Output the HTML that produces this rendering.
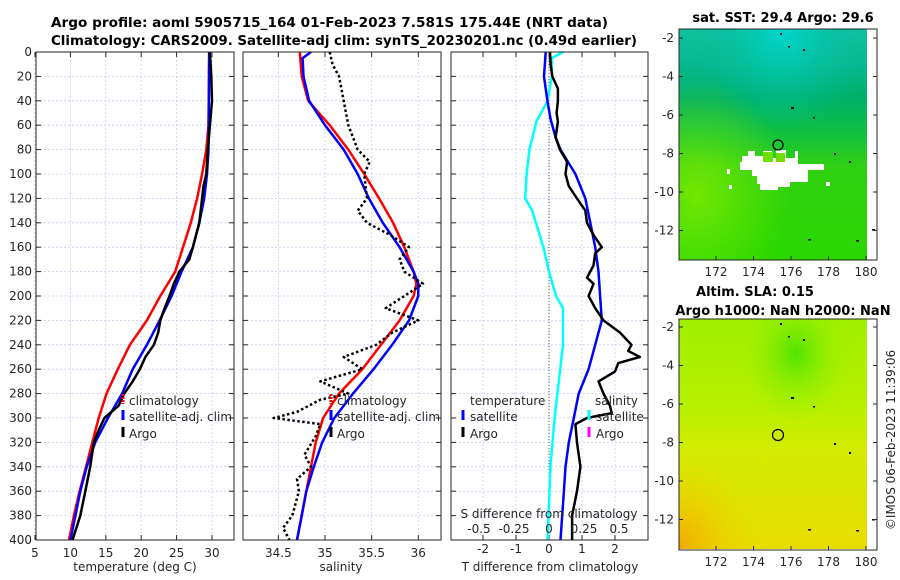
<!DOCTYPE html>
<html><head><meta charset="utf-8"><style>
html,body{margin:0;padding:0;background:#fff;}
svg{display:block;font-family:"DejaVu Sans","Liberation Sans",sans-serif;}
.tk{font-size:12px;fill:#262626;}
.tt{font-size:13px;font-weight:bold;fill:#000;}
</style></head><body>
<svg id="fig" width="900" height="580" viewBox="0 0 900 580" xmlns="http://www.w3.org/2000/svg">
<defs>
<linearGradient id="sstg" x1="0" y1="0" x2="0" y2="1">
<stop offset="0" stop-color="#10c0a0"/><stop offset="0.15" stop-color="#08b890"/><stop offset="0.3" stop-color="#00b068"/><stop offset="0.45" stop-color="#10c040"/><stop offset="0.6" stop-color="#30d010"/><stop offset="1" stop-color="#28d800"/>
</linearGradient>
<radialGradient id="sstc" cx="0.55" cy="0" r="0.45">
<stop offset="0" stop-color="#00d8d0"/><stop offset="0.5" stop-color="#00c8b0" stop-opacity="0.5"/><stop offset="1" stop-color="#00c0a0" stop-opacity="0"/>
</radialGradient>
<radialGradient id="sstl" cx="0.1" cy="0.72" r="0.5">
<stop offset="0" stop-color="#90f000" stop-opacity="0.7"/><stop offset="0.6" stop-color="#80ec00" stop-opacity="0.3"/><stop offset="1" stop-color="#80e800" stop-opacity="0"/>
</radialGradient>
<linearGradient id="slag" x1="0" y1="0" x2="0" y2="1">
<stop offset="0" stop-color="#a0f000"/><stop offset="0.35" stop-color="#b4f000"/><stop offset="0.55" stop-color="#d0ec00"/><stop offset="1" stop-color="#e8dc00"/>
</linearGradient>
<radialGradient id="slab" cx="0.62" cy="0.15" r="0.3">
<stop offset="0" stop-color="#50e400"/><stop offset="0.5" stop-color="#80ea00" stop-opacity="0.6"/><stop offset="1" stop-color="#a0f000" stop-opacity="0"/>
</radialGradient>
<radialGradient id="slac" cx="0" cy="1" r="0.4">
<stop offset="0" stop-color="#f0a800"/><stop offset="0.5" stop-color="#f0c400" stop-opacity="0.6"/><stop offset="1" stop-color="#f0d000" stop-opacity="0"/>
</radialGradient>
</defs>
<g id="titles">
<text class="tt" x="51" y="27" textLength="557" lengthAdjust="spacingAndGlyphs">Argo profile: aoml 5905715_164 01-Feb-2023 7.581S 175.44E (NRT data)</text>
<text class="tt" x="51" y="45" textLength="586" lengthAdjust="spacingAndGlyphs">Climatology: CARS2009. Satellite-adj clim: synTS_20230201.nc (0.49d earlier)</text>
</g>
<g id="p1"></g>
<g id="p2"></g>
<g id="p3"></g>

<g>
<text class="tt" x="783" y="22" text-anchor="middle">sat. SST: 29.4 Argo: 29.6</text>
<rect x="679" y="29" width="188" height="231" fill="url(#sstg)"/>
<rect x="679" y="29" width="188" height="231" fill="url(#sstc)"/>
<rect x="679" y="29" width="188" height="231" fill="url(#sstl)"/>
<path d="M742 156 L748 156 L748 151 L755 151 L755 156 L763 156 L763 151 L772 151 L772 158 L776 158 L776 150 L786 150 L786 158 L795 158 L795 151 L798 151 L798 164 L824 164 L824 170 L808 170 L808 182 L790 182 L790 187 L778 187 L778 190 L760 190 L760 184 L757 184 L757 176 L752 176 L752 170 L740 170 L740 162 L742 162 Z" fill="#fff"/>
<rect x="727" y="169" width="3" height="5" fill="#fff"/><rect x="826" y="182" width="4" height="4" fill="#fff"/><rect x="729" y="185" width="3" height="4" fill="#fff"/>
<rect x="763" y="152" width="10" height="10" fill="#70e000"/><rect x="776" y="153" width="9" height="9" fill="#70e000"/>
<circle cx="778" cy="145" r="5" fill="none" stroke="#000" stroke-width="1.2"/>
<g fill="#000"><rect x="780" y="33" width="2" height="2"/><rect x="788" y="46" width="2" height="1.5"/><rect x="803" y="49" width="2" height="2"/><rect x="791" y="107" width="3" height="2"/><rect x="813" y="117" width="2" height="1.5"/><rect x="834" y="153" width="2" height="2"/><rect x="849" y="161" width="2" height="2"/><rect x="856" y="240" width="3" height="1.5"/><rect x="808" y="239" width="3" height="1.5"/><rect x="872" y="229" width="3" height="1.5"/></g>
<rect x="679" y="29" width="198" height="231" fill="none" stroke="#262626" stroke-width="1"/>
</g>
<g id="m1ax"></g>

<g>
<text class="tt" x="755" y="296" text-anchor="middle">Altim. SLA: 0.15</text>
<text class="tt" x="783" y="315" text-anchor="middle">Argo h1000: NaN h2000: NaN</text>
<rect x="679" y="319" width="188" height="230" fill="url(#slag)"/>
<rect x="679" y="319" width="188" height="230" fill="url(#slab)"/>
<rect x="679" y="319" width="188" height="230" fill="url(#slac)"/>
<circle cx="778" cy="435" r="5.5" fill="none" stroke="#000" stroke-width="1.2"/>
<g fill="#000"><rect x="780" y="323" width="2" height="2"/><rect x="788" y="336" width="2" height="1.5"/><rect x="803" y="339" width="2" height="2"/><rect x="791" y="397" width="3" height="2"/><rect x="813" y="406" width="2" height="1.5"/><rect x="834" y="443" width="2" height="2"/><rect x="849" y="452" width="2" height="2"/><rect x="856" y="530" width="3" height="1.5"/><rect x="808" y="529" width="3" height="1.5"/><rect x="872" y="519" width="3" height="1.5"/></g>
<rect x="679" y="319" width="198" height="231" fill="none" stroke="#262626" stroke-width="1"/>
</g>
<g id="m2ax"></g>
<text class="tk" transform="translate(895,440) rotate(-90)" text-anchor="middle" font-size="12">©IMOS 06-Feb-2023 11:39:06</text>
</svg>
<script>
const depthTicks = [0,20,40,60,80,100,120,140,160,180,200,220,240,260,280,300,320,340,360,380,400];
const tempTicks = [5,10,15,20,25,30];
const salTicks = [34.5,35,35.5,36];
const salTickLabels = ["34.5","35","35.5","36"];
const tdiffTicks = [-2,-1,0,1,2];
const sdiffTicks = [-0.5,-0.25,0,0.25,0.5];
const sdiffTickLabels = ["-0.5","-0.25","0","0.25","0.5"];
const lonTicks = [172,174,176,178,180];
const latTicks = [-2,-4,-6,-8,-10,-12];

const climTDepth = [0,60,80,100,120,140,160,180,200,220,240,260,280,300,320,340,360,380,400];
const climT = [29.6,29.5,29.2,28.6,27.9,27.0,25.9,24.8,22.7,20.8,18.4,16.7,15.1,14.0,13.1,12.2,11.3,10.5,9.8];
const satTDepth = [0,80,100,120,140,160,180,200,220,240,260,280,300,320,340,360,380,400];
const satT = [29.6,29.5,29.3,28.9,28.2,27.3,25.7,24.3,22.6,20.8,18.8,17.3,15.3,13.5,12.3,11.4,10.7,10.0];
const argoTDepth = [0,20,40,60,80,100,110,120,140,160,170,180,190,200,210,220,230,240,250,260,270,280,290,300,310,320,340,360,380,400];
const argoT = [29.7,29.9,30.0,29.7,29.4,29.2,28.8,28.6,28.2,27.3,26.8,25.4,24.6,24.0,23.3,22.7,22.4,21.8,20.6,19.8,18.8,17.6,16.8,14.8,14.0,13.3,12.8,12.1,11.4,10.3];

const climSDepth = [0,20,40,60,80,100,120,140,160,180,190,200,220,240,260,280,300,320,340,360,380,400];
const climS = [34.73,34.75,34.82,35.05,35.25,35.42,35.58,35.73,35.85,35.95,35.98,35.95,35.8,35.6,35.4,35.15,34.98,34.9,34.85,34.8,34.75,34.7];
const satSDepth = [0,5,20,40,60,80,100,120,140,160,180,190,200,220,240,260,280,300,320,340,360,380,400];
const satS = [34.85,34.76,34.77,34.83,35.0,35.2,35.35,35.47,35.62,35.8,35.95,36.0,36.0,35.9,35.72,35.52,35.3,35.1,34.97,34.88,34.8,34.75,34.7];
const argoSDepth = [0,10,20,40,60,80,90,100,120,130,140,150,160,170,180,190,200,210,220,230,240,250,260,270,280,285,295,300,305,315,330,340,350,360,380,390,400];
const argoS = [35.05,35.08,35.15,35.2,35.25,35.35,35.48,35.42,35.45,35.35,35.45,35.7,35.9,35.8,35.85,36.05,35.85,35.65,36.0,35.72,35.55,35.2,35.4,34.95,35.25,34.95,34.7,34.45,34.95,34.9,34.78,34.85,34.7,34.72,34.65,34.55,34.62];

const satDTDepth = [0,20,40,55,70,80,100,120,140,160,180,200,220,240,260,280,300,320,340,360,380,400];
const satDT = [-0.1,-0.15,-0.05,0.05,0.2,0.35,0.8,1.1,1.25,1.4,1.5,1.55,1.6,1.4,1.2,0.9,0.75,0.6,0.5,0.45,0.4,0.35];
const argoDTDepth = [0,10,20,30,40,50,57,70,80,90,100,110,120,130,140,150,160,165,175,185,190,200,210,220,230,240,245,250,255,262,270,280,290,296,300,305,320,340,360,380,400];
const argoDT = [0.03,0.05,0.1,0.27,0.27,0.23,0.27,0.2,0.33,0.55,0.5,0.6,0.85,1.1,1.15,1.35,1.6,1.4,1.35,1.15,1.35,1.2,1.4,1.65,2.15,2.5,2.4,2.75,2.1,2.0,1.5,1.65,1.85,1.9,1.15,0.8,0.85,0.95,0.85,0.7,0.7];
const satDSDepth = [0,5,20,40,57,80,100,120,130,160,180,200,210,240,280,300,340,400];
const satDS = [0.1,0.02,0.02,-0.01,-0.09,-0.14,-0.16,-0.17,-0.12,-0.04,0.0,0.05,0.1,0.1,0.06,0.04,0.01,-0.01];

const NS = "http://www.w3.org/2000/svg";
const Y0 = 52, Y1 = 540, DMAX = 400;
function yD(d){ return Y0 + d/DMAX*(Y1-Y0); }
function mk(tag, attrs, parent){
  const e = document.createElementNS(NS, tag);
  for (const k in attrs) e.setAttribute(k, attrs[k]);
  parent.appendChild(e); return e;
}
function linePath(xs, ds, xf){
  let s = "";
  for (let i=0;i<xs.length;i++){ s += (i?"L":"M") + xf(xs[i]).toFixed(1) + " " + yD(ds[i]).toFixed(1); }
  return s;
}
function frame(g, x0, x1, xticksV, xf, showDepthLabels){
  for (const d of depthTicks){
    const gl = mk("line",{x1:x0,x2:x1,y1:yD(d),y2:yD(d),stroke:"#c6cdef","stroke-width":0.8,"stroke-dasharray":"2,2"},g);
    
    
    mk("line",{x1:x0,x2:x0+5,y1:yD(d),y2:yD(d),stroke:"#262626"},g);
    mk("line",{x1:x1-5,x2:x1,y1:yD(d),y2:yD(d),stroke:"#262626"},g);
    if (showDepthLabels){
      const t = mk("text",{x:x0-4,y:yD(d)+4,"text-anchor":"end",class:"tk"},g);
      t.textContent = d;
      
      
    }
  }
  for (const v of xticksV){
    const x = xf(v);
    mk("line",{x1:x,x2:x,y1:Y0,y2:Y1,stroke:"#c6cdef","stroke-width":0.8,"stroke-dasharray":"2,2"},g);
    mk("line",{x1:x,x2:x,y1:Y1,y2:Y1-5,stroke:"#262626"},g);
    mk("line",{x1:x,x2:x,y1:Y0,y2:Y0+5,stroke:"#262626"},g);
  }
}
function border(g,x0,x1){ mk("rect",{x:x0,y:Y0,width:x1-x0,height:Y1-Y0,fill:"none",stroke:"#262626","stroke-width":1},g); }
function txt(g, x, y, s, anchor, name, size){
  const t = mk("text",{x:x,y:y,"text-anchor":anchor||"start",class:"tk"},g);
  if (size) t.setAttribute("font-size", size);
  t.textContent = s;
  
  
  return t;
}
function series(g, xs, ds, xf, color, name, extra){
  const p = mk("path",Object.assign({d:linePath(xs,ds,xf),fill:"none",stroke:color,"stroke-width":2.5,"stroke-linejoin":"round"}, extra||{}),g);
  
  
}
function legendMark(g,x,y,color,name,dash){
  const l = mk("line",{x1:x,x2:x,y1:y-11,y2:y-1,stroke:color,"stroke-width":3},g);
  if (dash) l.setAttribute("stroke-dasharray","2,1");
  
  
}

const p1 = document.getElementById("p1");
const xT = v => 35 + (v-5)*7.08;
frame(p1, 36, 234, tempTicks, xT, true);
series(p1, climT, climTDepth, xT, "#ff0000", "climatology-temperature-line");
series(p1, satT, satTDepth, xT, "#0000ff", "satellite-temperature-line");
series(p1, argoT, argoTDepth, xT, "#000000", "argo-temperature-line");
border(p1,36,234);
for (const v of tempTicks) txt(p1, xT(v), 557, v, "middle", "temperature-tick-label");
txt(p1, 135, 571, "temperature (deg C)", "middle", "temperature-axis-title", 13);
legendMark(p1,123,405,"#ff0000","legend-climatology-marker",true); txt(p1,129,405,"climatology","start","legend-climatology",13);
legendMark(p1,123,421,"#0000ff","legend-satellite-marker"); txt(p1,129,421,"satellite-adj. clim","start","legend-satellite",13);
legendMark(p1,123,438,"#000000","legend-argo-marker"); txt(p1,129,438,"Argo","start","legend-argo",13);

const p2 = document.getElementById("p2");
const xS = v => 325 + (v-35)*93.3;
frame(p2, 243, 441, salTicks, xS, false);
series(p2, climS, climSDepth, xS, "#ff0000", "climatology-salinity-line");
series(p2, satS, satSDepth, xS, "#0000ff", "satellite-salinity-line");
series(p2, argoS, argoSDepth, xS, "#000000", "argo-salinity-line", {"stroke-dasharray":"2.5,2.5"});
border(p2,243,441);
salTicks.forEach((v,i)=>txt(p2, xS(v), 557, salTickLabels[i], "middle", "salinity-tick-label"));
txt(p2, 341, 571, "salinity", "middle", "salinity-axis-title", 13);
legendMark(p2,331,405,"#ff0000","legend-climatology-marker",true); txt(p2,337,405,"climatology","start","legend-climatology",13);
legendMark(p2,331,421,"#0000ff","legend-satellite-marker"); txt(p2,337,421,"satellite-adj. clim","start","legend-satellite",13);
legendMark(p2,331,438,"#000000","legend-argo-marker"); txt(p2,337,438,"Argo","start","legend-argo",13);

const p3 = document.getElementById("p3");
const xDT = v => 549 + v*33;
const xDS = v => 549 + v*140;
frame(p3, 451, 648, tdiffTicks, xDT, false);
mk("line",{x1:549,x2:549,y1:Y0,y2:Y1,stroke:"#555","stroke-width":1,"stroke-dasharray":"1,2"},p3);
series(p3, satDS, satDSDepth, xDS, "#00ffff", "satellite-salinity-diff-line");
series(p3, satDT, satDTDepth, xDT, "#0000ff", "satellite-temperature-diff-line");
series(p3, argoDT, argoDTDepth, xDT, "#000000", "argo-temperature-diff-line");
border(p3,451,648);
tdiffTicks.forEach(v=>txt(p3, xDT(v), 553, v, "middle", "tdiff-tick-label"));
txt(p3, 550, 571, "T difference from climatology", "middle", "tdiff-axis-title", 13);
txt(p3, 549, 518, "S difference from climatology", "middle", "sdiff-axis-title", 13);
sdiffTicks.forEach((v,i)=>txt(p3, xDS(v), 533, sdiffTickLabels[i], "middle", "sdiff-tick-label", 13));
txt(p3, 470, 405, "temperature", "start", "legend-temperature-header", 13);
legendMark(p3,463,421,"#0000ff","legend-t-satellite-marker"); txt(p3,470,421,"satellite","start","legend-t-satellite",13);
legendMark(p3,463,438,"#000000","legend-t-argo-marker"); txt(p3,470,438,"Argo","start","legend-t-argo",13);
txt(p3, 595, 405, "salinity", "start", "legend-salinity-header", 13);
legendMark(p3,589,421,"#00ffff","legend-s-satellite-marker"); txt(p3,596,421,"satellite","start","legend-s-satellite",13);
legendMark(p3,589,438,"#ff00ff","legend-s-argo-marker"); txt(p3,596,438,"Argo","start","legend-s-argo",13);

function mapAxes(id, yTop, yBot, latY0, name){
  const g = document.getElementById(id);
  const xL = v => 716 + (v-172)*18.75;
  const yL = v => latY0 + (-2 - v)*19.25;
  for (const v of lonTicks){
    mk("line",{x1:xL(v),x2:xL(v),y1:yBot,y2:yBot-4,stroke:"#262626"},g);
    txt(g, xL(v), yBot+16, v, "middle", name+"-lon-tick-label");
  }
  for (const v of latTicks){
    mk("line",{x1:679,x2:683,y1:yL(v),y2:yL(v),stroke:"#262626"},g);
    mk("line",{x1:873,x2:877,y1:yL(v),y2:yL(v),stroke:"#262626"},g);
    txt(g, 674, yL(v)+4, v, "end", name+"-lat-tick-label");
  }
}
mapAxes("m1ax", 29, 260, 38, "sst-map");
mapAxes("m2ax", 319, 550, 327, "sla-map");
</script>
</body></html>
